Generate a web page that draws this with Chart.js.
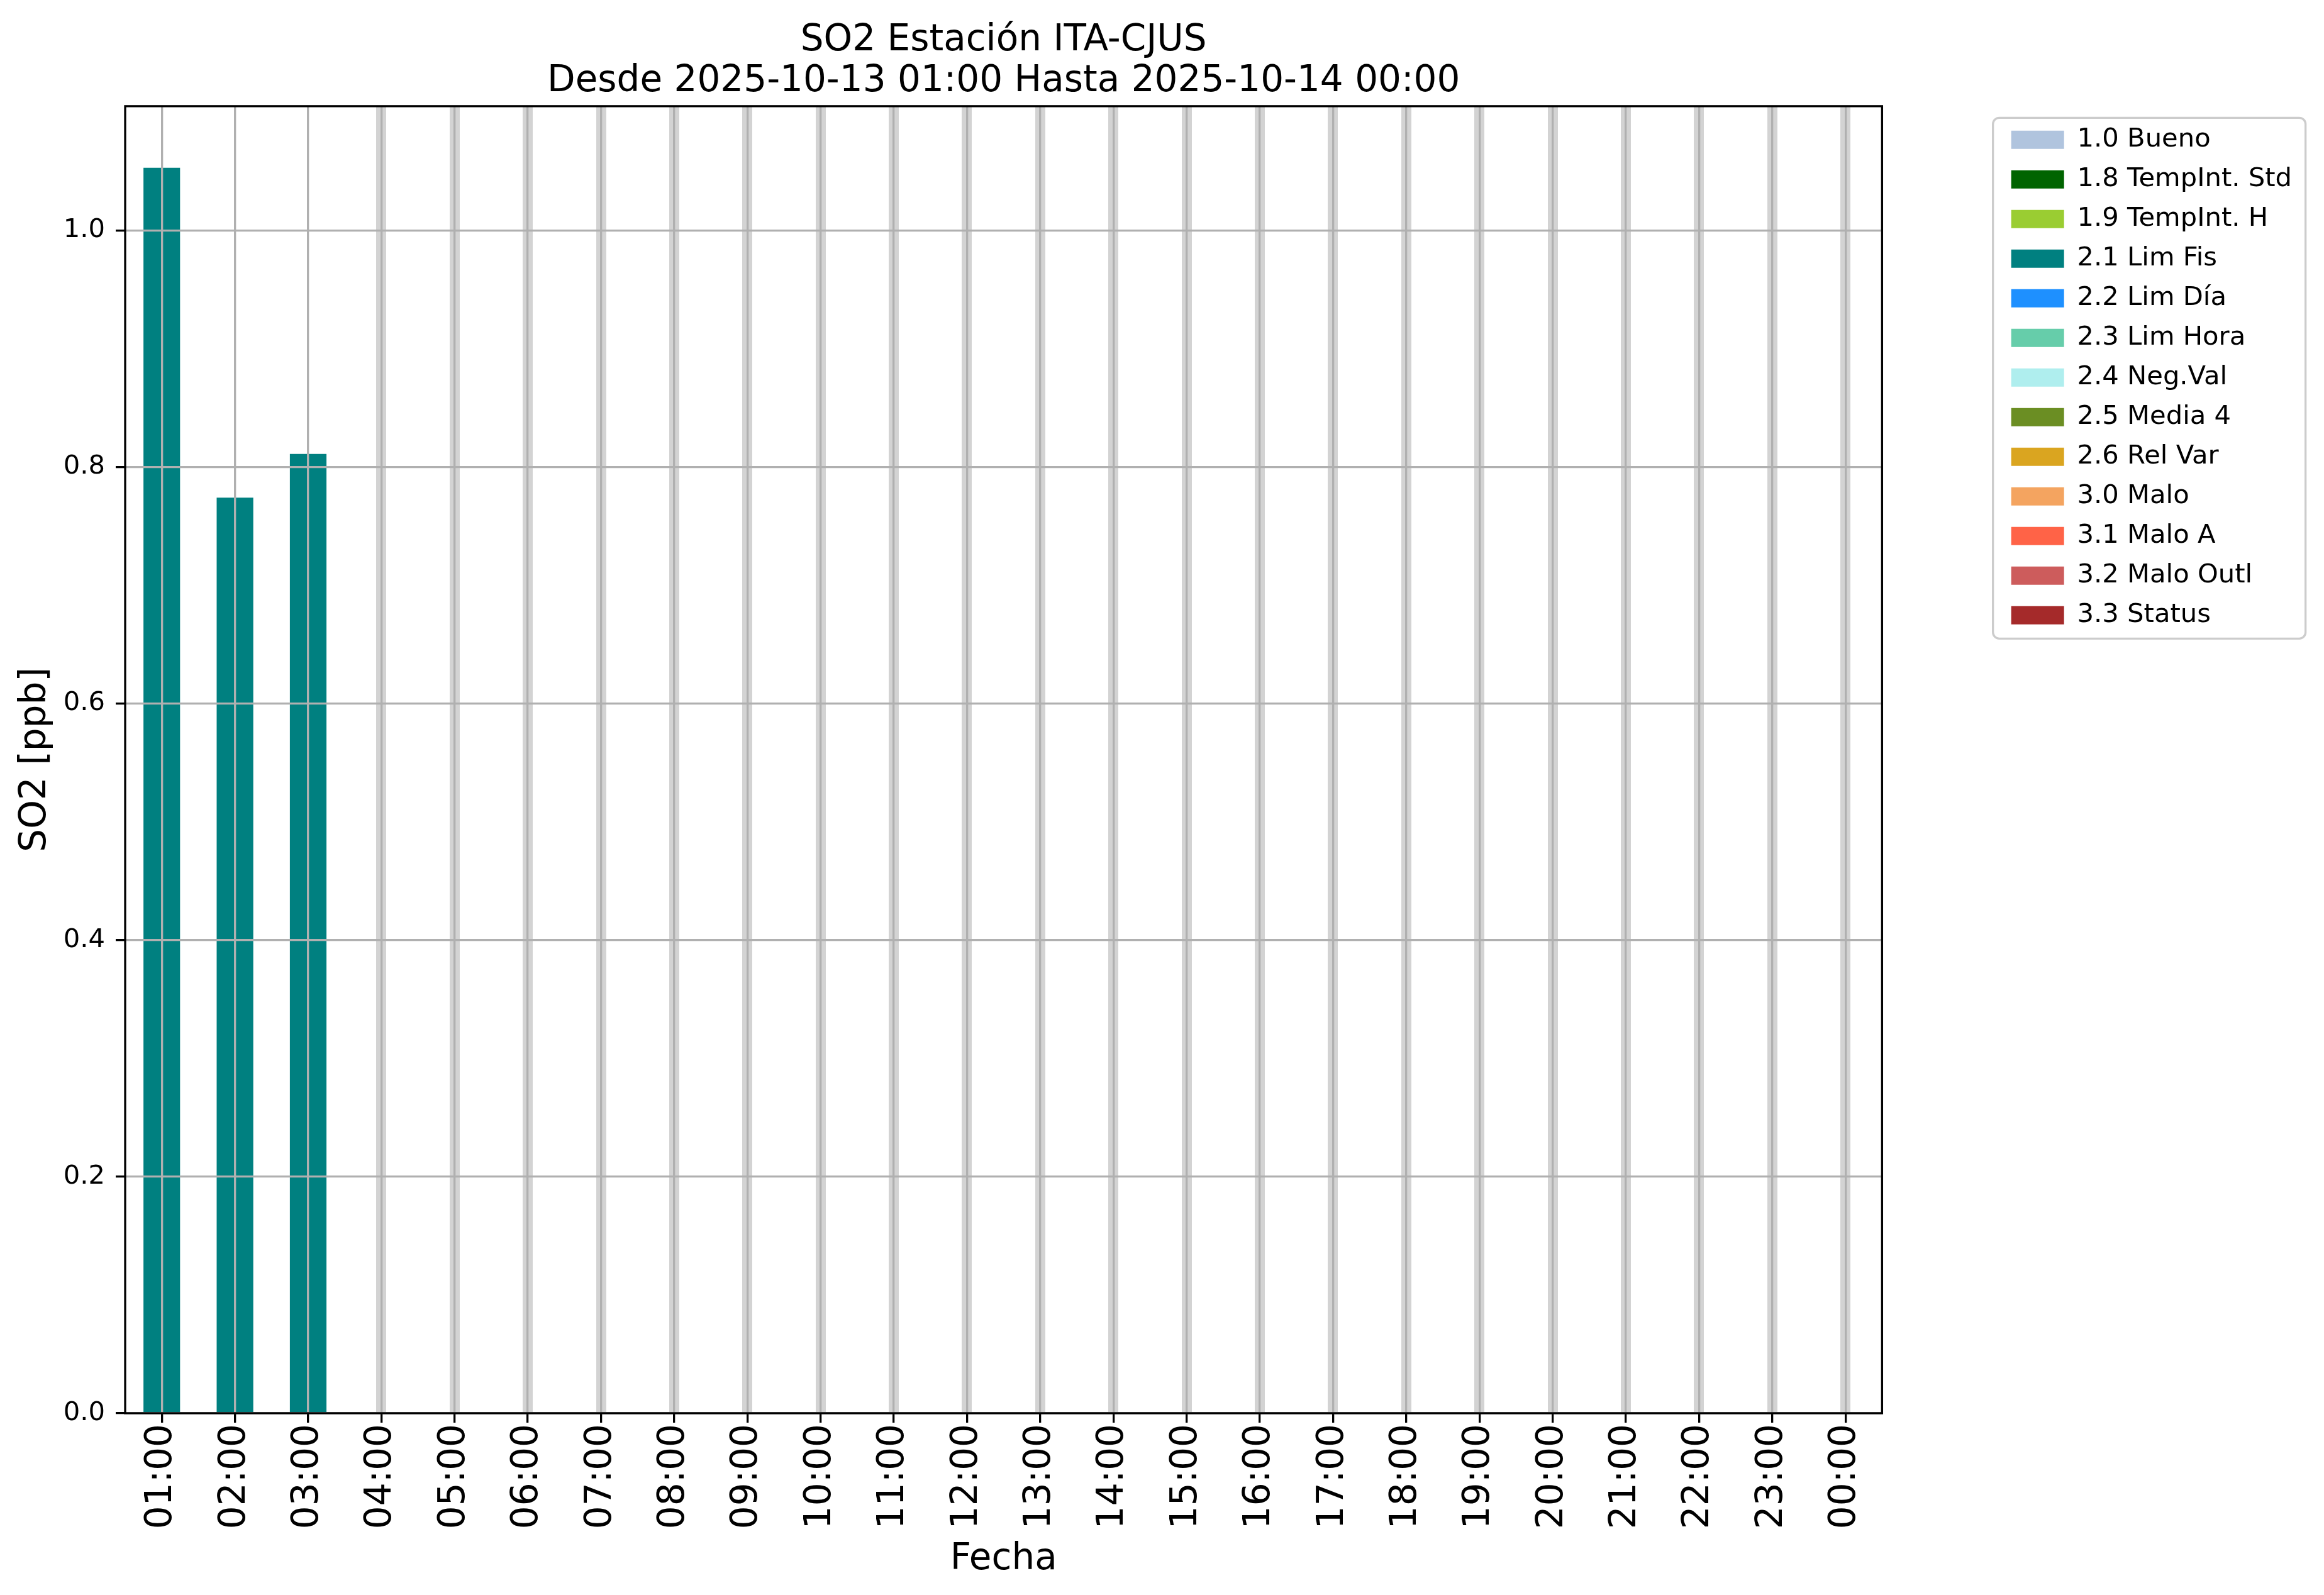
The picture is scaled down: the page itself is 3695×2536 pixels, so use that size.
<!DOCTYPE html>
<html>
<head>
<meta charset="utf-8">
<script src="https://cdn.jsdelivr.net/npm/chart.js@4"></script>
<style>
  html, body { margin: 0; padding: 0; background: #fff; }
  #box { width: 3695px; height: 2536px; }
</style>
</head>
<body>
<div id="box"><canvas id="grafico" width="3695" height="2536"></canvas></div>
<script>
// horas del eje x
const horas = ["01:00", "02:00", "03:00", "04:00", "05:00", "06:00", "07:00", "08:00",
    "09:00", "10:00", "11:00", "12:00", "13:00", "14:00", "15:00", "16:00",
    "17:00", "18:00", "19:00", "20:00", "21:00", "22:00", "23:00", "00:00"];

// SO2 [ppb] por hora (null = sin dato)
const so2 = [1.053, 0.774, 0.811, null, null, null, null, null, null, null, null, null,
    null, null, null, null, null, null, null, null, null, null, null, null];

// bandera de calidad de cada hora
const banderaHora = ["2.1 Lim Fis", "2.1 Lim Fis", "2.1 Lim Fis", null, null, null, null, null,
    null, null, null, null, null, null, null, null, null, null, null, null, null, null, null, null];

const banderas = ["1.0 Bueno", "1.8 TempInt. Std", "1.9 TempInt. H", "2.1 Lim Fis", "2.2 Lim Día",
    "2.3 Lim Hora", "2.4 Neg.Val", "2.5 Media 4", "2.6 Rel Var", "3.0 Malo", "3.1 Malo A",
    "3.2 Malo Outl", "3.3 Status"];
const colores = ["#b0c4de", "#006400", "#9acd32", "#008080", "#1e90ff", "#66cdaa", "#afeeee",
    "#6b8e23", "#daa520", "#f4a460", "#ff6347", "#cd5c5c", "#a52a2a"];

const yTicks = [0.0, 0.2, 0.4, 0.6, 0.8, 1.0];

const FONT = "'DejaVu Sans', sans-serif";
const GRID = "#b0b0b0";

// un dataset por bandera
const datasets = banderas.map((b, i) => ({
    label: b,
    data: so2.map((v, k) => (banderaHora[k] === b ? v : null)),
    backgroundColor: colores[i],
    borderColor: colores[i],
    borderWidth: 0,
    barPercentage: 0.5,
    categoryPercentage: 1.0,
    xAxisID: "x",
    yAxisID: "y"
}));

// marco negro del grafico + borde de la leyenda
const marco = {
    id: "marco",
    afterDraw(chart) {
        const ctx = chart.ctx;
        const a = chart.chartArea;
        ctx.save();
        ctx.strokeStyle = "#000";
        ctx.lineWidth = 3.3;
        ctx.strokeRect(a.left, a.top, a.right - a.left, a.bottom - a.top);

        const hb = chart.legend.legendHitBoxes;
        if (hb && hb.length) {
            ctx.strokeStyle = "#cccccc";
            ctx.lineWidth = 3.3;
            ctx.beginPath();
            ctx.roundRect(hb[0].left - 29, hb[0].top - 14, 497, 828, 10);
            ctx.stroke();
        }
        ctx.restore();
    }
};

new Chart(document.getElementById("grafico"), {
    type: "bar",
    data: { labels: horas, datasets: datasets },
    plugins: [marco],
    options: {
        responsive: false,
        animation: false,
        devicePixelRatio: 1,
        layout: { padding: { left: 0, right: 41, top: 0, bottom: 0 } },
        plugins: {
            title: {
                display: true,
                fullSize: false,
                text: ["SO2 Estación ITA-CJUS", "Desde 2025-10-13 01:00 Hasta 2025-10-14 00:00"],
                color: "#000",
                font: { family: FONT, size: 58, weight: "normal", lineHeight: 1.128 },
                padding: { top: 32, bottom: 6 }
            },
            legend: {
                display: true,
                position: "right",
                align: "start",
                title: {
                    display: true,
                    text: " ",
                    font: { family: FONT, size: 10, lineHeight: 1.2 },
                    padding: { top: 168, bottom: 0 }
                },
                labels: {
                    color: "#000",
                    font: { family: FONT, size: 41.7 },
                    boxWidth: 84,
                    boxHeight: 29,
                    padding: 21.3
                }
            },
            tooltip: { enabled: false }
        },
        scales: {
            x: {
                type: "category",
                stacked: true,
                offset: true,
                grid: {
                    offset: false,
                    z: 1,
                    color: GRID,
                    lineWidth: 3.3,
                    drawTicks: true,
                    tickLength: 15,
                    tickColor: "#000",
                    tickWidth: 3.3
                },
                border: { display: false },
                ticks: {
                    autoSkip: false,
                    minRotation: 90,
                    maxRotation: 90,
                    padding: 2,
                    color: "#000",
                    font: { family: FONT, size: 58 }
                },
                title: {
                    display: true,
                    text: "Fecha",
                    color: "#000",
                    font: { family: FONT, size: 58 },
                    padding: { top: 0, bottom: 21 }
                },
                afterFit(s) { s.height = 289; }
            },
            xBanda: {
                type: "category",
                labels: horas,
                position: "bottom",
                offset: true,
                grid: {
                    offset: false,
                    z: -2,
                    drawTicks: false,
                    color: "#d3d3d3",
                    lineWidth: ctx => (ctx.index !== undefined && so2[ctx.index] === null ? 16 : 0)
                },
                border: { display: false },
                ticks: { display: false },
                afterFit(s) { s.height = 0; }
            },
            y: {
                type: "linear",
                stacked: true,
                min: 0,
                max: 1.105,
                afterBuildTicks(s) { s.ticks = yTicks.map(v => ({ value: v })); },
                grid: {
                    z: 1,
                    color: GRID,
                    lineWidth: 3.3,
                    drawTicks: true,
                    tickLength: 15,
                    tickColor: "#000",
                    tickWidth: 3.3
                },
                border: { display: false },
                ticks: {
                    padding: 17,
                    color: "#000",
                    font: { family: FONT, size: 41.7 },
                    callback: v => Number(v).toFixed(1)
                },
                title: {
                    display: true,
                    text: "SO2 [ppb]",
                    color: "#000",
                    font: { family: FONT, size: 58 },
                    padding: { top: 22, bottom: 0 }
                },
                afterFit(s) { s.width = 199; }
            },
            hueco: {
                type: "linear",
                position: "right",
                display: true,
                grid: { display: false, drawTicks: false },
                border: { display: false },
                ticks: { display: false },
                afterFit(s) { s.width = 184; }
            }
        }
    }
});
</script>
</body>
</html>
